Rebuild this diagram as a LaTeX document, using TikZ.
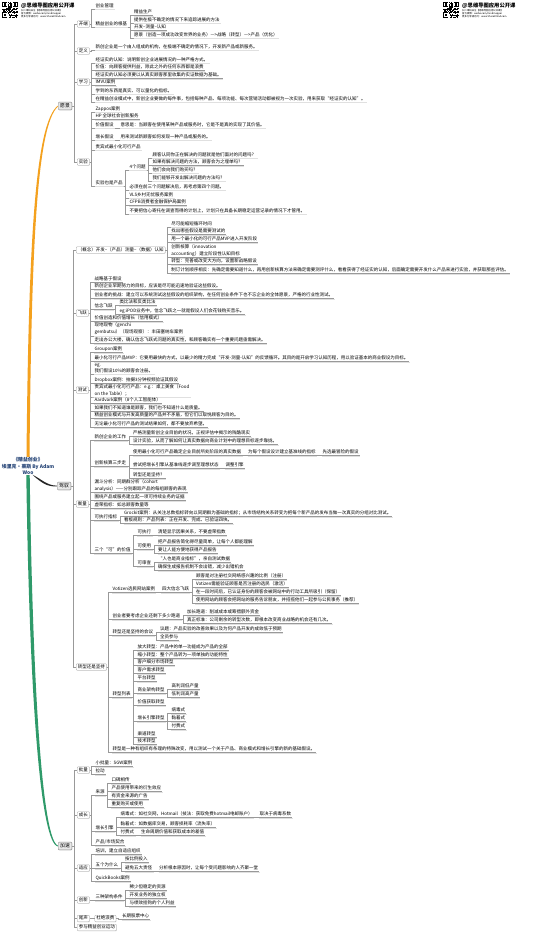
\documentclass[tikz,border=0pt]{standalone}
\usepackage{fontspec}
\setmainfont{Noto Sans CJK SC}
\usetikzlibrary{shadows}
\definecolor{ctrblue}{HTML}{1F3F73}
\definecolor{orng}{HTML}{F4A11E}
\definecolor{grn}{HTML}{2F9A6A}
\newcommand\fsz{\fontsize{4.5}{6.8}\selectfont}
\newcommand\frt{\fontsize{4.8}{6}\selectfont}
\pgfdeclarelayer{bg}
\pgfsetlayers{bg,main}
% place a node to the right of its parent, at an absolute y
\newcommand\kid[5][leaf]{\path (#3.east) ++(5pt,0) coordinate (tmp); \node[#1] (#2) at (tmp |- 0,#4) {#5};}
% connectors
\newcommand\lkB[2]{\draw[conn] (#1.east) -| ([xshift=-3pt]#2.south west) -- (#2.south west) -- (#2.south east);
  \draw[ushd] ([shift={(0.4pt,-0.6pt)}]#2.south west) -- ([shift={(0.4pt,-0.6pt)}]#2.south east);}
\newcommand\lkU[2]{\draw[conn] (#1.south east) -| ([xshift=-3pt]#2.south west) -- (#2.south west) -- (#2.south east);
  \draw[ushd] ([shift={(0.4pt,-0.6pt)}]#2.south west) -- ([shift={(0.4pt,-0.6pt)}]#2.south east);}
\newcommand\lkX[2]{\draw[conn] (#1.east) -| ([xshift=-3pt]#2.west) -- (#2.west);}
\newcommand\kB[5][leaf]{\kid[#1]{#2}{#3}{#4}{#5}\lkB{#3}{#2}}
\newcommand\kU[5][leaf]{\kid[#1]{#2}{#3}{#4}{#5}\lkU{#3}{#2}}
\newcommand\kX[4]{\kid[sbox]{#1}{#2}{#3}{#4}\lkX{#2}{#1}}
% pseudo QR code
\newcommand\qrbox[2]{%
\begin{scope}[shift={(#1,#2)}]
\pgfmathsetseed{11}
\foreach \i in {0,...,20}{\foreach \j in {0,...,20}{\pgfmathparse{rnd}\ifdim\pgfmathresult pt>0.5pt\fill (\i*0.75,\j*0.75) rectangle ++(0.75,0.75);\fi}}
\foreach \a/\b in {0/0,10.5/0,0/10.5}{
 \fill[white] (\a-0.75,\b-0.75) rectangle ++(6.75,6.75);
 \fill (\a,\b) rectangle ++(5.25,5.25);
 \fill[white] (\a+0.75,\b+0.75) rectangle ++(3.75,3.75);
 \fill (\a+1.5,\b+1.5) rectangle ++(2.25,2.25);}
\end{scope}}
\tikzset{
  leaf/.style={anchor=west,inner xsep=0.8pt,inner ysep=0.6pt,font=\fsz,text height=3.8pt,text depth=0.9pt},
  leafm/.style={anchor=west,inner xsep=0.8pt,inner ysep=0.6pt,font=\fsz,align=left},
  sbox/.style={anchor=west,draw=black!35,fill=white,rounded corners=0.8pt,inner xsep=1.6pt,inner ysep=0.9pt,font=\fsz,text height=3.8pt,text depth=0.9pt,line width=0.35pt,drop shadow={shadow xshift=0.5pt,shadow yshift=-0.5pt,opacity=0.2}},
  rbox/.style={anchor=west,draw=black!45,fill=black!9,rounded corners=1pt,inner xsep=2pt,inner ysep=1.4pt,font=\frt,text height=4pt,text depth=1pt,line width=0.45pt,drop shadow={shadow xshift=0.5pt,shadow yshift=-0.5pt,opacity=0.25}},
  conn/.style={draw=black!40,line width=0.35pt},
  ushd/.style={draw=black!12,line width=0.5pt},
  ctrnode/.style={align=center,font=\fontsize{4.9}{6.2}\selectfont\bfseries,text=ctrblue,inner sep=0.5pt},
  hdt/.style={anchor=west,inner sep=0pt,font=\fontsize{5.3}{6}\selectfont\bfseries},
  hds/.style={anchor=west,inner sep=0pt,align=left,font=\fontsize{2.4}{3}\selectfont},
}
\begin{document}
\begin{tikzpicture}[x=1pt,y=-1pt]
\begin{pgfonlayer}{bg}
\fill[white] (0,0) rectangle (540,933);
\end{pgfonlayer}
\useasboundingbox (0,0) rectangle (540,933);
% header
\qrbox{2}{2}
\node[hdt] (hla1) at (21,5.5) {@思维导图应用公开课};
\node[hds] (hla2) at (21,13.5) {扫二维码关注【思维导图应用公开课】\\官方微博：weibo.com/mindmapper\\更多分享请访问：www.Share2Mind.com};
\qrbox{443}{2}
\node[hdt] (hra1) at (462,5.5) {@思维导图应用公开课};
\node[hds] (hra2) at (462,13.5) {扫二维码关注【思维导图应用公开课】\\官方微博：weibo.com/mindmapper\\更多分享请访问：www.Share2Mind.com};
% centre
\node[ctrnode] (ctr) at (28,466) {《精益创业》\\埃里克·莱斯 By Adam\\Woo};
% ================= 愿景
\node[rbox] (yj) at (58,106) {愿景};
\kX{kd}{yj}{24}{开端}
\kX{dy}{yj}{51}{定义}
\kX{xx}{yj}{82}{学习}
\kX{sy}{yj}{162}{实验}
\kB{kda}{kd}{6}{创业管理}
\kB{kdb}{kd}{24}{精益创业的根基}
\kU{kdba}{kdb}{12.5}{精益生产}
\kU{kdbb}{kdb}{20}{提供在极不确定的情况下来追踪进展的方法}
\kU{kdbc}{kdb}{27.5}{开发--测量--认知}
\kU{kdbd}{kdb}{35}{愿景（创造一项成功改变世界的业务）--->战略（转型）--->产品（优化）}
\kB{dya}{dy}{47}{新创企业是一个由人组成的机构，在极端不确定的情况下，开发新产品或新服务。}
\kB{xxa}{xx}{60}{经证实的认知：说明新创企业进展情况的一种严格方式。}
\kB{xxb}{xx}{67.5}{价值：向顾客提供利益，除此之外的任何东西都是浪费}
\kB{xxc}{xx}{75.5}{经证实的认知必须要以从真实顾客那里收集的实证数据为基础。}
\kB{xxd}{xx}{82.5}{IMVU案例}
\kB{xxe}{xx}{91}{学到的东西是真实、可以量化的指标。}
\kB{xxf}{xx}{99}{在精益创业模式中，新创企业要做的每件事，包括每种产品、每项功能、每次营销活动都被视为一次实验，用来获取“经证实的认知”。}
\kB{sya}{sy}{109}{Zappos案例}
\kB{syb}{sy}{116.5}{HP 全球社会创新服务}
\kB{syc}{sy}{125}{价值假设}
\kU{syca}{syc}{125}{意思是：当顾客在使用某种产品或服务时，它是不是真的实现了其价值。}
\kB{syd}{sy}{137}{增长假设}
\kU{syda}{syd}{137}{用来测试新顾客如何发现一种产品或服务的。}
\kB{sye}{sy}{147}{贵宾式最小化可行产品}
\kB{syf}{sy}{183}{实验也是产品}
\kU{syfa}{syf}{167}{4个问题}
\kU{syfaa}{syfa}{155}{顾客认同你正在解决的问题就是他们面对的问题吗？}
\kU{syfab}{syfa}{162.5}{如果有解决问题的方法，顾客会为之埋单吗？}
\kU{syfac}{syfa}{170}{他们会向我们购买吗？}
\kU{syfad}{syfa}{178}{我们能够开发出解决问题的方法吗？}
\kU{syfb}{syf}{187}{必须在前三个问题解决后，再考虑第四个问题。}
\kU{syfc}{syf}{195}{VLS乡村无忧服务案例}
\kU{syfd}{syf}{202.5}{CFPB消费者金融保护局案例}
\kU{syfe}{syf}{211}{不要把信心寄托在调查而得的计划上，计划只在具备长期稳定运营记录的情况下才管用。}
% ================= 驾驭
\node[rbox] (jy) at (57,486) {驾驭};
\kX{gn}{jy}{250}{（概念）开发--（产品）测量--（数据）认知}
\kX{fy}{jy}{313}{飞跃}
\kX{cs}{jy}{390}{测试}
\kX{hl}{jy}{504}{衡量}
\kX{zx}{jy}{667}{转型还是坚持}
\kB{gna}{gn}{224}{尽可能缩短循环时间}
\kB{gnb}{gn}{231.5}{找出哪些假设是需要测试的}
\kB{gnc}{gn}{239.5}{用一个最小化的可行产品MVP进入开发阶段}
\kB[leafm]{gnd}{gn}{250.5}{创新核算（innovation\\accounting）建立阶段性认知目标}
\kB{gne}{gn}{261.5}{转型：完善或改变大方向，设置新战略假设}
\kB{gnf}{gn}{270}{制订计划顺序相反：先确定需要知道什么，再用创新核算方法来确定需要测评什么，看看获得了经证实的认知，后面确定需要开发什么产品来进行实验，并获取那些评估。}
\kB{fya}{fy}{279}{战略基于假设}
\kB{fyb}{fy}{286.5}{新创企业早期努力的目标，应该是尽可能迅速地验证这些假设。}
\kB{fyc}{fy}{295}{创业者的挑战：建立可以系统测试这些假设的组织架构，在任何创业条件下也不忘企业的全体愿景，严格的行业性测试。}
\kB{fyd}{fy}{306.5}{信念飞跃}
\kU{fyda}{fyd}{302.5}{类比法和反类比法}
\kU{fydb}{fyd}{311}{eg:iPOD业务中，信念飞跃之一就是假设人们会花钱购买音乐。}
\kB{fye}{fy}{318.5}{价值创造和价值增长（信用模式）}
\kB[leafm]{fyf}{fy}{329}{现地现物（genchi\\gembutsu）（现场观察）：丰田塞纳车案例}
\kB{fyg}{fy}{340.5}{走出办公大楼，确认信念飞跃式问题的真实性，和顾客确实有一个重要问题亟需解决。}
\kB{csa}{cs}{349.5}{Groupon案例}
\kB{csb}{cs}{358}{最小化可行产品MVP：它要用最快的方式，以最少的精力完成“开发-测量-认知”的反馈循环。其目的是开启学习认知历程，用以验证基本的商业假设为目标。}
\kB[leafm]{csc}{cs}{368.5}{eg.\\我们假设10\%的顾客会注册。}
\kB{csd}{cs}{380}{Dropbox案例：拍摄3分钟视频验证其假设}
\kB[leafm]{cse}{cs}{390.5}{贵宾式最小化可行产品：e.g.：桌上美食（Food\\on the Table）；}
\kB{csf}{cs}{400}{Aardvark案例（8个人工智能体）}
\kB{csg}{cs}{408}{如果我们不知道谁是顾客，我们也不知道什么是质量。}
\kB{csh}{cs}{415.5}{精益创业模式与开发高质量的产品并不矛盾，但它们以取悦顾客为目的。}
\kB{csi}{cs}{424}{无论最小化可行产品的测试结果如何，都不要放弃希望。}
\kB{hla}{hl}{437.5}{新创企业的工作}
\kU{hlaa}{hla}{433}{严格测量新创企业目前的状况，正视评估中揭示的残酷现实}
\kU{hlab}{hla}{441.5}{设计实验，从而了解如何让真实数据向商业计划中的理想目标逐步靠拢。}
\kB{hlb}{hl}{463}{创新核算三步走}
\kU{hlba}{hlb}{452}{使用最小化可行产品确定企业目前所处阶段的真实数据}
\kU{hlbaa}{hlba}{452}{为每个假设设计建立基准线的指标}
\kU{hlbaaa}{hlbaa}{452}{先选最冒险的假设}
\kU{hlbb}{hlb}{465.5}{尝试把增长引擎从基准线逐步调至理想状态}
\kU{hlbba}{hlbb}{465.5}{调整引擎}
\kU{hlbc}{hlb}{475}{转型还是坚持？}
\kB[leafm]{hlc}{hl}{485.5}{漏斗分析：同期群分析（cohort\\analysis）——分别跟踪产品的每组顾客的表现}
\kB{hld}{hl}{497}{围绕产品或服务建立起一项可持续业务的证据}
\kB{hle}{hl}{505}{虚荣指标：如总顾客数量等}
\kB{hlf}{hl}{517}{可执行指标}
\kU{hlfa}{hlf}{513}{Grockit案例：从关注总数指标转向以同期群为基础的指标；从市场结构关系转变为把每个新产品的发布当做一次真实的分组对比测试。}
\kU{hlfb}{hlf}{520.5}{看板规则：产品列表：正在开发、完成、已验证四块。}
\kB{hlg}{hl}{550}{三个“可”的价值}
\kU{hlga}{hlg}{532}{可执行}
\kU{hlgaa}{hlga}{532}{清楚显示因果关系，不要虚荣指数}
\kU{hlgb}{hlg}{546}{可使用}
\kU{hlgba}{hlgb}{542}{把产品报告简化得尽量简单，让每个人都能理解}
\kU{hlgbb}{hlgb}{550.5}{要让人能方便地获得产品报告}
\kU{hlgc}{hlg}{563}{可审查}
\kU{hlgca}{hlgc}{559.5}{“人也是商业指标”，亲自测试数据}
\kU{hlgcb}{hlgc}{567.5}{确保生成报告机制不会出错，减少出错机会}
\kB{zxa}{zx}{589}{Votizen选民网站案例}
\kU{zxaa}{zxa}{589}{四大信念飞跃}
\kU{zxaaa}{zxaa}{576.5}{顾客是对注册社交网络感兴趣的比例（注册）}
\kU{zxaab}{zxaa}{584}{Votizen需能验证顾客是否注册的选民（激活）}
\kU{zxaac}{zxaa}{592.5}{在一段时间后，已认证身份的顾客会被网站中的行动工具所吸引（保留）}
\kU{zxaad}{zxaa}{600.5}{使用网站的顾客会把网站的服务告诉朋友，并招揽他们一起参与公民事务（推荐）}
\kB{zxb}{zx}{616}{创业者要考虑企业还剩下多少跑道}
\kU{zxba}{zxb}{612}{加长跑道：削减成本或筹措额外资金}
\kU{zxbb}{zxb}{620.5}{真正标准：公司剩余的转型次数，即根本改变商业战略的机会还有几次。}
\kB{zxc}{zx}{632.5}{转型还是坚持的会议}
\kU{zxca}{zxc}{629}{议题：产品实验的改善效果以及为何产品开发的成效低于预期}
\kU{zxcb}{zxc}{637.5}{全员参与}
\kB{zxd}{zx}{694}{转型列表}
\kU{zxda}{zxd}{647}{放大转型：产品中的单一功能成为产品的全部}
\kU{zxdb}{zxd}{655}{缩小转型：整个产品转为一项单独的功能特性}
\kU{zxdc}{zxd}{662.5}{客户细分市场转型}
\kU{zxdd}{zxd}{670}{客户需求转型}
\kU{zxde}{zxd}{678}{平台转型}
\kU{zxdf}{zxd}{690}{商业架构转型}
\kU{zxdfa}{zxdf}{686}{高利润低产量}
\kU{zxdfb}{zxdf}{694}{低利润高产量}
\kU{zxdg}{zxd}{702}{价值获取转型}
\kU{zxdh}{zxd}{718}{增长引擎转型}
\kU{zxdha}{zxdh}{710}{病毒式}
\kU{zxdhb}{zxdh}{718}{黏着式}
\kU{zxdhc}{zxdh}{726}{付费式}
\kU{zxdi}{zxd}{734}{渠道转型}
\kU{zxdj}{zxd}{741.5}{技术转型}
\kB{zxe}{zx}{749.5}{转型是一种有组织有条理的特殊改变，用以测试一个关于产品、商业模式和增长引擎的新的基础假设。}
% ================= 加速
\node[rbox] (js) at (58,846) {加速};
\kX{pl}{js}{770}{批量}
\kX{cz}{js}{815}{成长}
\kX{sh}{js}{868}{适应}
\kX{cx}{js}{900}{创新}
\kX{ws}{js}{918.5}{尾声}
\kX{cy}{js}{927.5}{参与精益创业运动}
\kB{pla}{pl}{763}{小批量：SGW案例}
\kB{plb}{pl}{771.5}{拉动}
\kB{cza}{cz}{792}{来源}
\kU{czaa}{cza}{780}{口碑相传}
\kU{czab}{cza}{788}{产品使用带来的衍生效应}
\kU{czac}{cza}{796}{有资金来源的广告}
\kU{czad}{cza}{804}{重复购买或使用}
\kB{czb}{cz}{828}{增长引擎}
\kU{czba}{czb}{814}{病毒式：如社交网，Hotmail（技法：获取免费hotmail电邮账户）}
\kU{czbaa}{czba}{814}{取决于病毒系数}
\kU{czbb}{czb}{824}{黏着式：如数据库交易，顾客损耗率（流失率）}
\kU{czbc}{czb}{832}{付费式}
\kU{czbca}{czbc}{832}{生命周期价值和获取成本的差值}
\kB{czc}{cz}{842}{产品/市场契合}
\kB{sha}{sh}{851}{培训，建立自适应组织}
\kB{shb}{sh}{865}{五个为什么}
\kU{shba}{shb}{859.5}{按比例投入}
\kU{shbb}{shb}{868.5}{避免五大责怪}
\kU{shbba}{shbb}{868.5}{分析根本原因时，让每个受问题影响的人齐聚一堂}
\kB{shc}{sh}{878}{QuickBooks案例}
\kB{cxa}{cx}{897}{三种架构条件}
\kU{cxaa}{cxa}{887}{稀少但稳定的资源}
\kU{cxab}{cxa}{895}{开发业务的独立权}
\kU{cxac}{cxa}{903}{与绩效挂钩的个人利益}
\kX{dj}{ws}{918.5}{杜绝浪费}
\kB{dja}{dj}{916}{长期股票中心}
% ================= main branches
\begin{pgfonlayer}{bg}
\fill[orng] ([xshift=-1.5pt]ctr.north) .. controls (28.5,250) and (34.5,123) .. ([yshift=0.45pt]yj.west)
  -- ([yshift=-0.45pt]yj.west) .. controls (36.5,126) and (31.5,250) .. ([xshift=1.5pt]ctr.north) -- cycle;
\fill[grn] ([xshift=-1.7pt]ctr.south) .. controls (29.5,700) and (40.5,844) .. ([yshift=-0.45pt]js.west)
  -- ([yshift=0.45pt]js.west) .. controls (43,841) and (32.9,700) .. ([xshift=1.7pt]ctr.south) -- cycle;
\fill[black!85] ([shift={(4.5pt,0.3pt)}]ctr.south) .. controls (42,479.5) and (47,485.6) .. ([yshift=0.35pt]jy.west)
  -- ([yshift=-0.35pt]jy.west) .. controls (46.5,487) and (41,482) .. ([shift={(6pt,-1.2pt)}]ctr.south) -- cycle;
\end{pgfonlayer}
\end{tikzpicture}
\end{document}
